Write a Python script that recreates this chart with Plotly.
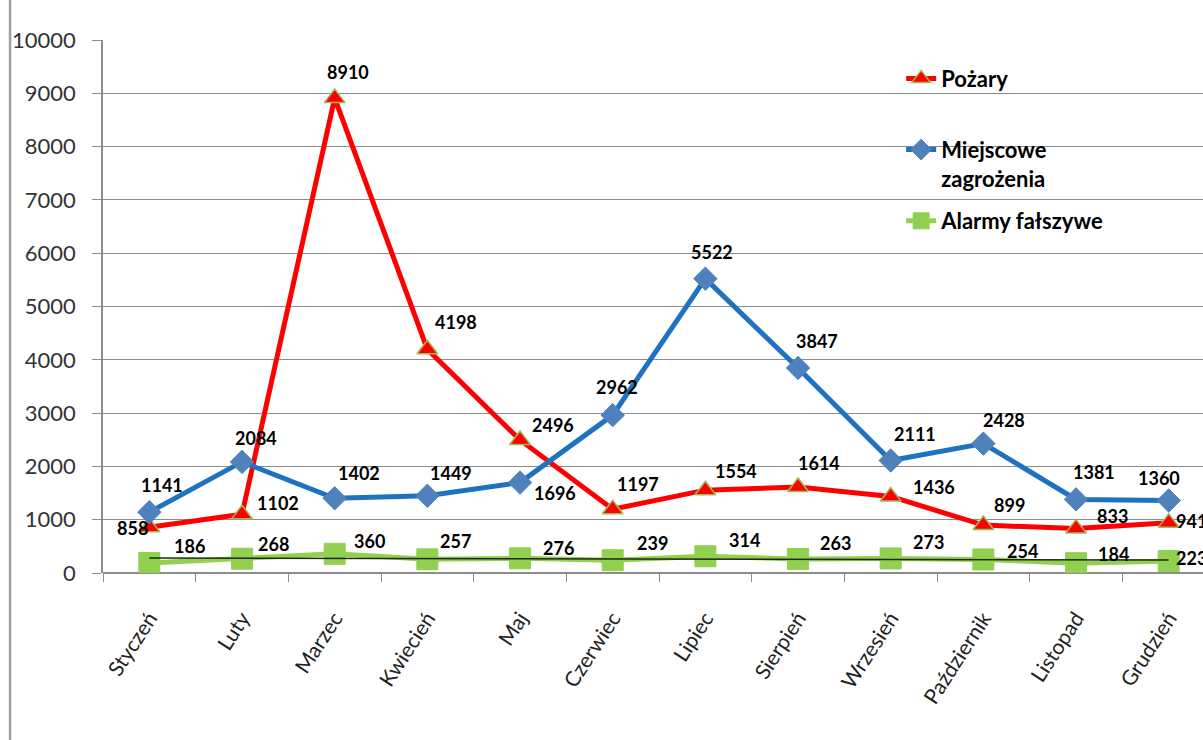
import plotly.graph_objects as go

# months (x categories)
miesiace = ["Styczeń", "Luty", "Marzec", "Kwiecień", "Maj", "Czerwiec", "Lipiec",
            "Sierpień", "Wrzesień", "Październik", "Listopad", "Grudzień"]

pozary = [858, 1102, 8910, 4198, 2496, 1197, 1554, 1614, 1436, 899, 833, 941]
miejscowe = [1141, 2084, 1402, 1449, 1696, 2962, 5522, 3847, 2111, 2428, 1381, 1360]
alarmy = [186, 268, 360, 257, 276, 239, 314, 263, 273, 254, 184, 223]

# trendline of the false alarms, ends
trend_x = ["Styczeń", "Grudzień"]
trend_y = [280, 245]

y_ticks = [0, 1000, 2000, 3000, 4000, 5000, 6000, 7000, 8000, 9000, 10000]

# label offsets from the marker (px, right / down) as placed in the original
off_pozary = [(-17, 1), (36, -11), (13, -26), (29, -27), (33, -15), (25, -25),
              (31, -19), (21, -24), (43, -9), (26, -20), (36, -13), (23, -2)]
off_miejscowe = [(13, -27), (14, -24), (24, -25), (24, -23), (35, 10), (4, -28),
                 (7, -27), (19, -27), (24, -26), (21, -24), (18, -27), (-10, -23)]
off_alarmy = [(40, -17), (31, -15), (35, -13), (28, -18), (38, -10), (40, -17),
              (39, -16), (37, -16), (38, -16), (39, -8), (37, -9), (23, -3)]

FONT = "Lato, 'Liberation Sans', Arial, sans-serif"

fig = go.Figure()

# the blank second line only pads the legend entry
fig.add_trace(go.Scatter(
    x=miesiace, y=pozary, name="<b>Pożary</b><br> ", mode="lines+markers",
    line=dict(color="#FF0000", width=5),
    marker=dict(symbol="triangle-up", size=18, color="#FF0000",
                line=dict(color="#9BBB59", width=1.5)),
    legendgroup="a",
))

fig.add_trace(go.Scatter(
    x=miesiace, y=miejscowe, name="<b>Miejscowe<br>zagrożenia</b>", mode="lines+markers",
    line=dict(color="#1F72BF", width=5),
    marker=dict(symbol="diamond", size=18, color="#4F81BD",
                line=dict(color="#4F81BD", width=1)),
    legendgroup="b",
))

fig.add_trace(go.Scatter(
    x=miesiace, y=alarmy, name="<b>Alarmy fałszywe</b>", mode="lines+markers",
    line=dict(color="#92D050", width=5),
    marker=dict(symbol="square", size=21, color="#92D050",
                line=dict(color="#92D050", width=1)),
    legendgroup="c",
))

fig.add_trace(go.Scatter(
    x=trend_x, y=trend_y, mode="lines", showlegend=False,
    line=dict(color="#1E2A14", width=1.5), hoverinfo="skip",
))

# data labels
for vals, offs in ((pozary, off_pozary), (miejscowe, off_miejscowe), (alarmy, off_alarmy)):
    for m, v, (dx, dy) in zip(miesiace, vals, offs):
        fig.add_annotation(x=m, y=v, text="<b>%d</b>" % v, showarrow=False,
                           xshift=dx, yshift=-dy,
                           font=dict(family=FONT, size=18, color="black"))

fig.update_layout(
    width=1203, height=740,
    margin=dict(l=103, r=0, t=40, b=167),
    paper_bgcolor="white", plot_bgcolor="white",
    font=dict(family=FONT, size=20, color="#333333"),
    legend=dict(x=0.7256, y=0.967, xanchor="left", yanchor="top",
                font=dict(family=FONT, size=22, color="black"),
                bgcolor="rgba(0,0,0,0)", tracegroupgap=11, valign="top"),
    showlegend=True,
    shapes=[dict(type="line", xref="paper", yref="paper",
                 x0=-0.0845, x1=-0.0845, y0=-0.32, y1=1.08,
                 line=dict(color="#A0A0A0", width=2.5))],
)

fig.update_xaxes(
    type="category", range=[-0.5, 11.37],
    showline=False, showgrid=False, zeroline=False,
    ticks="outside", ticklen=8, tickcolor="#8C8C8C", tickson="boundaries",
    tickangle=-57, ticklabelstandoff=28,
    tickfont=dict(family=FONT, size=21, color="#222222"),
    automargin=False,
)

fig.update_yaxes(
    range=[0, 10000], tickvals=y_ticks, ticktext=[str(t) for t in y_ticks],
    showline=True, linecolor="#8C8C8C", linewidth=1.5,
    showgrid=True, gridcolor="#8C8C8C", gridwidth=1,
    zeroline=True, zerolinecolor="#8C8C8C", zerolinewidth=1.5,
    ticks="outside", ticklen=9, tickcolor="#8C8C8C", ticklabelstandoff=12,
    tickfont=dict(family=FONT, size=22, color="#333333"),
    automargin=False,
)

# drop the default page margin so the figure sits at the window corner
fig.write_html("out.html", config={"displayModeBar": False},
               post_script="document.body.style.margin='0';")
